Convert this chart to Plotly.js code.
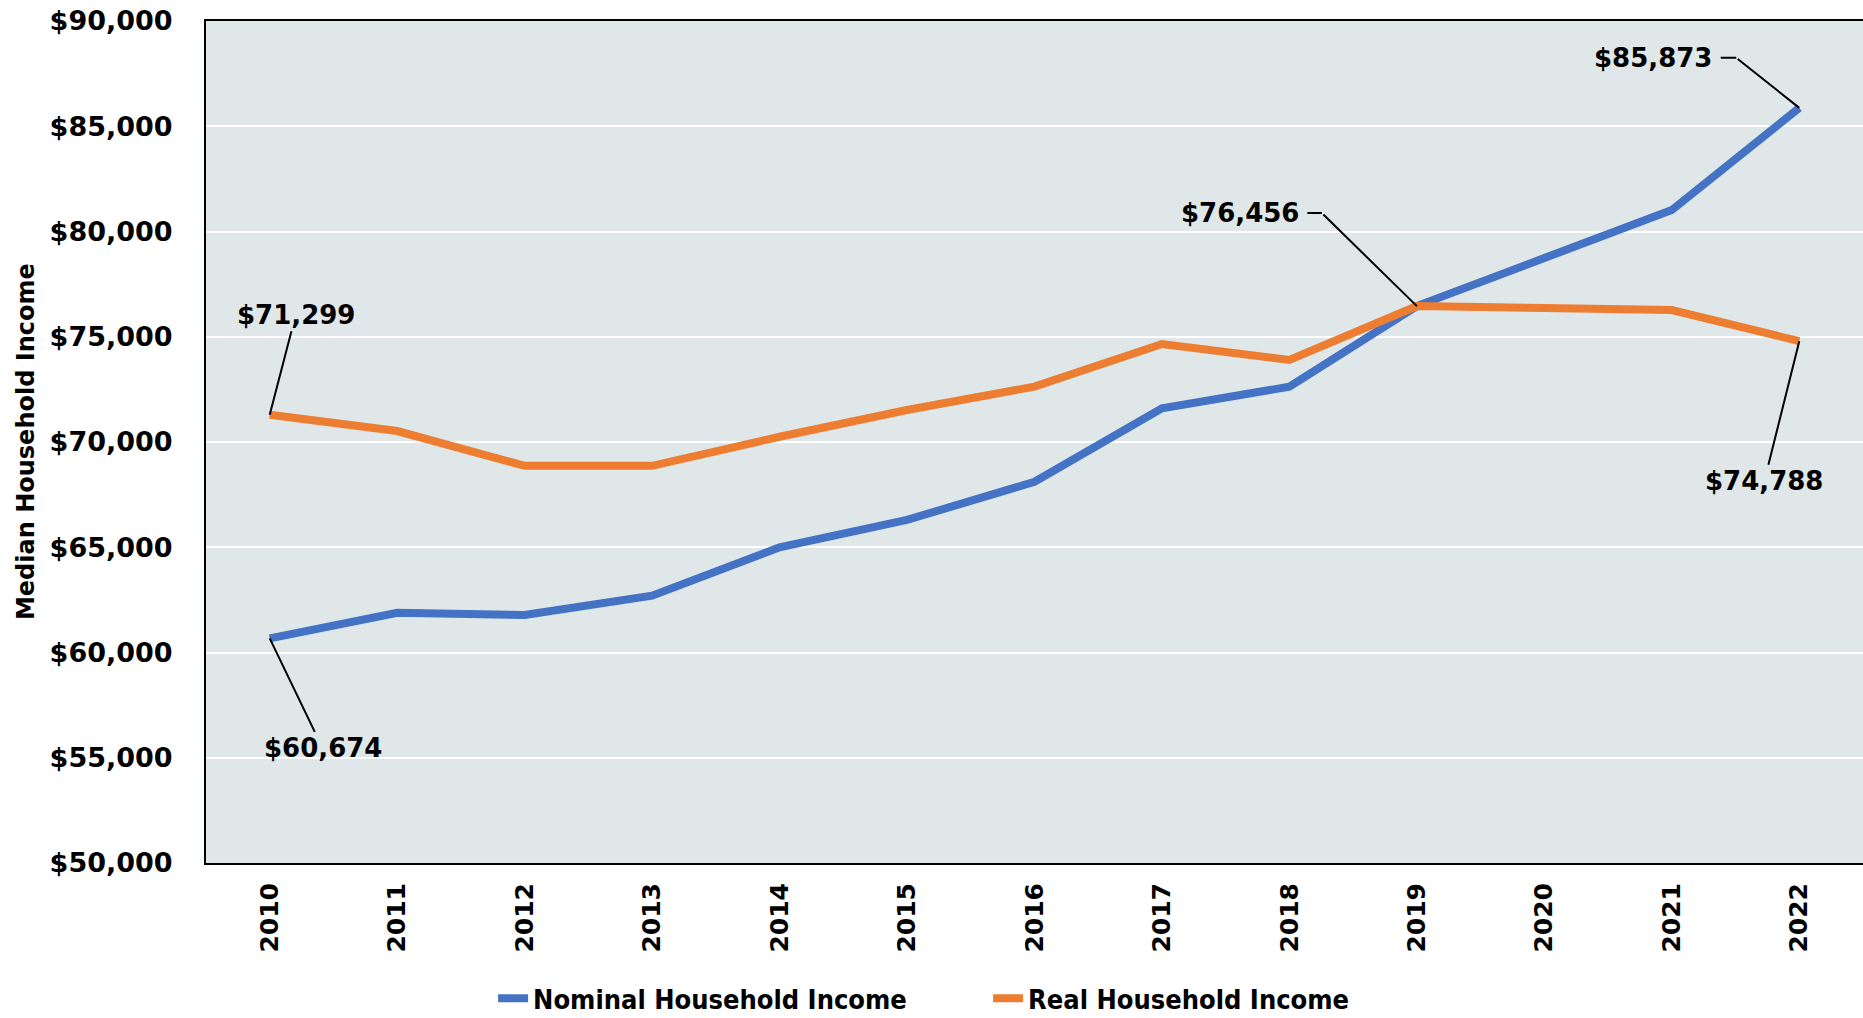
<!DOCTYPE html>
<html>
<head>
<meta charset="utf-8">
<script src="https://cdn.plot.ly/plotly-3.0.1.min.js"></script>
<style>
  html, body { margin: 0; padding: 0; background: #fff; }
  #chart { width: 1863px; height: 1018px; }
</style>
</head>
<body>
<div id="chart"></div>
<script>
// years on the x axis
var years = [2010, 2011, 2012, 2013, 2014, 2015, 2016,
             2017, 2018, 2019, 2020, 2021, 2022];

// median household income
var nominalIncome = [60674, 61890, 61780, 62700, 65000, 66300, 68110,
                     71600, 72630, 76456, 78740, 81020, 85873];
var realIncome = [71299, 70520, 68870, 68870, 70250, 71520, 72630,
                  74656, 73895, 76456, 76360, 76271, 74788];

var yTicks = [50000, 55000, 60000, 65000, 70000, 75000, 80000, 85000, 90000];

var blue = "#4472C4";
var orange = "#ED7D31";
var font = "DejaVu Sans, Verdana, sans-serif";
var narrowFont = "Liberation Sans Narrow, DejaVu Sans Condensed, Arial Narrow, sans-serif";

function fmt(v) {
  return "$" + v.toLocaleString("en-US");
}

var trace1 = {
  x: years,
  y: nominalIncome,
  name: "Nominal Household Income",
  type: "scatter",
  mode: "lines",
  line: {color: blue, width: 8}
};
var trace2 = {
  x: years,
  y: realIncome,
  name: "Real Household Income",
  type: "scatter",
  mode: "lines",
  line: {color: orange, width: 8}
};

// callouts: a plain leader line, or a label with a little elbow
var labelFont = {family: font, size: 26, color: "#000", weight: 700};

function straightCallout(i, series, ax, ay) {
  return {
    x: years[i], y: series[i], xref: "x", yref: "y",
    text: fmt(series[i]), font: labelFont,
    showarrow: true, arrowhead: 0, arrowwidth: 2, arrowcolor: "#000",
    standoff: 0, ax: ax, ay: ay
  };
}

function elbowCallout(i, series, ax, ay, labelDx) {
  return [
    {
      x: years[i], y: series[i], xref: "x", yref: "y",
      text: " ", font: {size: 1},
      showarrow: true, arrowhead: 0, arrowwidth: 2, arrowcolor: "#000",
      standoff: 0, ax: ax, ay: ay
    },
    {
      x: years[i], y: series[i], xref: "x", yref: "y",
      xshift: ax, yshift: -ay,
      text: fmt(series[i]), font: labelFont,
      showarrow: true, arrowhead: 0, arrowwidth: 2, arrowcolor: "#000",
      standoff: 0, startstandoff: 7, ax: labelDx, ay: 0
    }
  ];
}

var annotations = [
  straightCallout(0, realIncome, 26, -100),
  straightCallout(0, nominalIncome, 53, 110),
  straightCallout(12, realIncome, -35, 140)
].concat(elbowCallout(9, realIncome, -95, -93, -82))
 .concat(elbowCallout(12, nominalIncome, -63, -50, -83));

// y axis title placed by hand so it sits at the far left
annotations.push({
  xref: "paper", yref: "paper",
  x: -0.1086, y: 0.5,
  xanchor: "center", yanchor: "middle",
  text: "Median Household Income",
  textangle: -90, showarrow: false,
  font: {family: font, size: 24, color: "#000", weight: 700}
});

var layout = {
  width: 1863,
  height: 1018,
  margin: {l: 206, r: 0, t: 21, b: 155},
  paper_bgcolor: "#ffffff",
  plot_bgcolor: "rgb(224,231,233)",
  showlegend: true,
  legend: {
    orientation: "h",
    x: 0.472, xanchor: "center",
    yref: "container",
    y: 0.019, yanchor: "middle",
    font: {family: narrowFont, size: 27, color: "#000", weight: 700},
    itemwidth: 30,
    entrywidth: 450,
    traceorder: "normal"
  },
  xaxis: {
    range: [2009.5, 2022.5],
    tickmode: "array",
    tickvals: years,
    ticktext: years.map(String),
    tickangle: -90,
    tickfont: {family: font, size: 25, color: "#000", weight: 700},
    ticks: "outside", ticklen: 8, tickcolor: "rgba(0,0,0,0)",
    showgrid: false,
    zeroline: false,
    showline: true, linecolor: "#000", linewidth: 2, mirror: true,
    fixedrange: true
  },
  yaxis: {
    range: [50000, 90000],
    tickvals: yTicks,
    ticktext: yTicks.map(fmt),
    tickfont: {family: font, size: 27, color: "#000", weight: 700},
    ticks: "outside", ticklen: 26, tickcolor: "rgba(0,0,0,0)",
    showgrid: true, gridcolor: "#ffffff", gridwidth: 2,
    zeroline: false,
    showline: true, linecolor: "#000", linewidth: 2,
    fixedrange: true
  },
  annotations: annotations
};

Plotly.newPlot("chart", [trace1, trace2], layout, {staticPlot: true});
</script>
</body>
</html>
